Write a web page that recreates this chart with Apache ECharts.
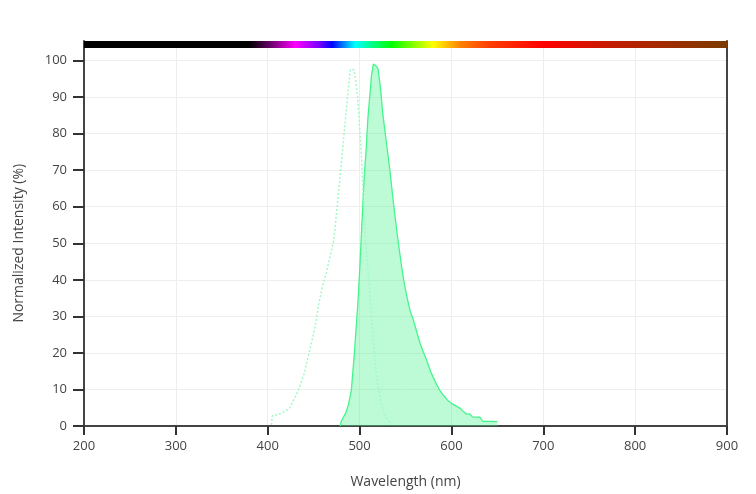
<!DOCTYPE html>
<html>
<head>
<meta charset="utf-8">
<script src="https://cdn.jsdelivr.net/npm/echarts@6/dist/echarts.min.js"></script>
<style>html,body{margin:0;padding:0;background:#fff}#c{width:756px;height:494px}</style>
</head>
<body>
<div id="c"></div>
<script>
// Excitation spectrum (wavelength nm, normalized %)
const exWavelength = [404,405,411,416,420,424,428,433,440,445,451,456,460,464,467,472,476,480,485,488,490,494,496,498,502,504,506.5,509,511,514.5,518,522,525,527,531,535];
const exValues     = [0.3,2.8,3.1,3.6,4.2,5,7,9.5,14.5,20,26.3,34,38.5,42,45.5,51,61,71.5,85,93,97.5,97.5,94,89.7,74,63,51,43,37,24.5,14.5,8,5,3,1.5,0.5];
// Emission spectrum
const emWavelength = [479,480,485,488,491,494.4,496,498,500,501.5,503.5,505,507,509,511,513,515,518,520,522,523.5,525,528,531,533,536,539,542,545,548,551,555,558,562,566,569,573,578,583,587,592,596,600,605,609,613,616,620,623,631,634,650];
const emValues     = [0,1.3,3.6,6,9.7,20,26,33,42,50,60.5,68,75,84,90,96,99,98.5,97.8,94,90.6,86,80,74,70,63,56.5,50.5,45,40,36,31.5,29.5,26,22.5,20.5,18,14.5,11.8,9.9,8.2,7,6.2,5.5,4.9,4,3.3,3.3,2.5,2.4,1.3,1.2];
// Axis ranges / tick steps
const xRange = [200, 900], xStep = 100;
const yRange = [0, 100], yStep = 10;
// Wavelength colour bar stops
const barWavelength = [200,380,400,430,455,470,495,535,580,610,640,700,780,900];
const barColors = ['#000000','#000000','#5a005a','#ff00ff','#8000ff','#0000ff','#00ffff','#00ff00','#ffff00','#ff8000','#ff4000','#ff0000','#c01e00','#7a3c00'];

const exData = exWavelength.map((w,i)=>[w,exValues[i]]);
const emData = emWavelength.map((w,i)=>[w,emValues[i]]);
const FONT = 'Open Sans';
const TXT = '#444';
const AX = '#444';

const chart = echarts.init(document.getElementById('c'), null, {renderer:'canvas'});
chart.setOption({
  animation:false,
  backgroundColor:'#fff',
  textStyle:{fontFamily:FONT},
  grid:[
    {left:84,right:29,top:60.5,bottom:68,containLabel:false},
    {left:84,right:29,top:41,height:19.5,containLabel:false}
  ],
  xAxis:[
    {gridIndex:0,type:'value',min:xRange[0],max:xRange[1],interval:xStep,
     name:'Wavelength (nm)',nameLocation:'middle',nameGap:49,
     nameTextStyle:{fontFamily:FONT,fontSize:14,color:TXT},
     axisLine:{show:true,onZero:false,lineStyle:{color:AX,width:2}},
     axisTick:{show:true,length:9,lineStyle:{color:'#333',width:2}},
     axisLabel:{color:TXT,fontFamily:FONT,fontSize:13,margin:14},
     splitLine:{show:true,lineStyle:{color:'#eeeeee',width:1}}},
    {gridIndex:1,type:'value',min:xRange[0],max:xRange[1],interval:xStep,
     axisLine:{show:false},axisTick:{show:false},axisLabel:{show:false},
     splitLine:{show:true,lineStyle:{color:'#eeeeee',width:1}}}
  ],
  yAxis:[
    {gridIndex:0,type:'value',min:yRange[0],max:yRange[1],interval:yStep,
     name:'Normalized Intensity (%)',nameLocation:'middle',nameGap:58,nameRotate:90,
     nameTextStyle:{fontFamily:FONT,fontSize:14,color:TXT},
     axisLine:{show:true,onZero:false,lineStyle:{color:AX,width:2}},
     axisTick:{show:true,length:11,lineStyle:{color:'#333',width:2}},
     axisLabel:{color:TXT,fontFamily:FONT,fontSize:13,margin:17},
     splitLine:{show:true,lineStyle:{color:'#eeeeee',width:1}}},
    {gridIndex:0,type:'value',min:yRange[0],max:yRange[1],position:'right',
     axisLine:{show:true,lineStyle:{color:AX,width:2}},axisTick:{show:false},axisLabel:{show:false},splitLine:{show:false}},
    {gridIndex:1,type:'value',min:0,max:1,position:'left',
     axisLine:{show:true,lineStyle:{color:AX,width:2}},axisTick:{show:false},axisLabel:{show:false},splitLine:{show:false}},
    {gridIndex:1,type:'value',min:0,max:1,position:'right',
     axisLine:{show:true,lineStyle:{color:AX,width:2}},axisTick:{show:false},axisLabel:{show:false},splitLine:{show:false}}
  ],
  series:[
    {type:'custom',xAxisIndex:1,yAxisIndex:2,data:[[xRange[0],xRange[1]]],silent:true,z:5,
     renderItem:function(params,api){
       const p0 = api.coord([api.value(0),1]);
       const p1 = api.coord([api.value(1),0.64]);
       const span = barWavelength[barWavelength.length-1]-barWavelength[0];
       const stops = barWavelength.map((w,i)=>({offset:(w-barWavelength[0])/span,color:barColors[i]}));
       return {type:'rect',shape:{x:p0[0],y:p0[1],width:p1[0]-p0[0],height:p1[1]-p0[1]},
               style:{fill:new echarts.graphic.LinearGradient(0,0,1,0,stops)}};
     }},
    {type:'line',name:'Excitation',xAxisIndex:0,yAxisIndex:0,data:exData,showSymbol:false,symbol:'none',
     lineStyle:{color:'#a3f8c7',width:1.5,type:[2,2]},z:3},
    {type:'line',name:'Emission',xAxisIndex:0,yAxisIndex:0,data:emData,showSymbol:false,symbol:'none',
     lineStyle:{color:'#45f58c',width:1.3},
     areaStyle:{color:'#45f58c',opacity:0.36,origin:'start'},z:2}
  ]
});
</script>
</body>
</html>
